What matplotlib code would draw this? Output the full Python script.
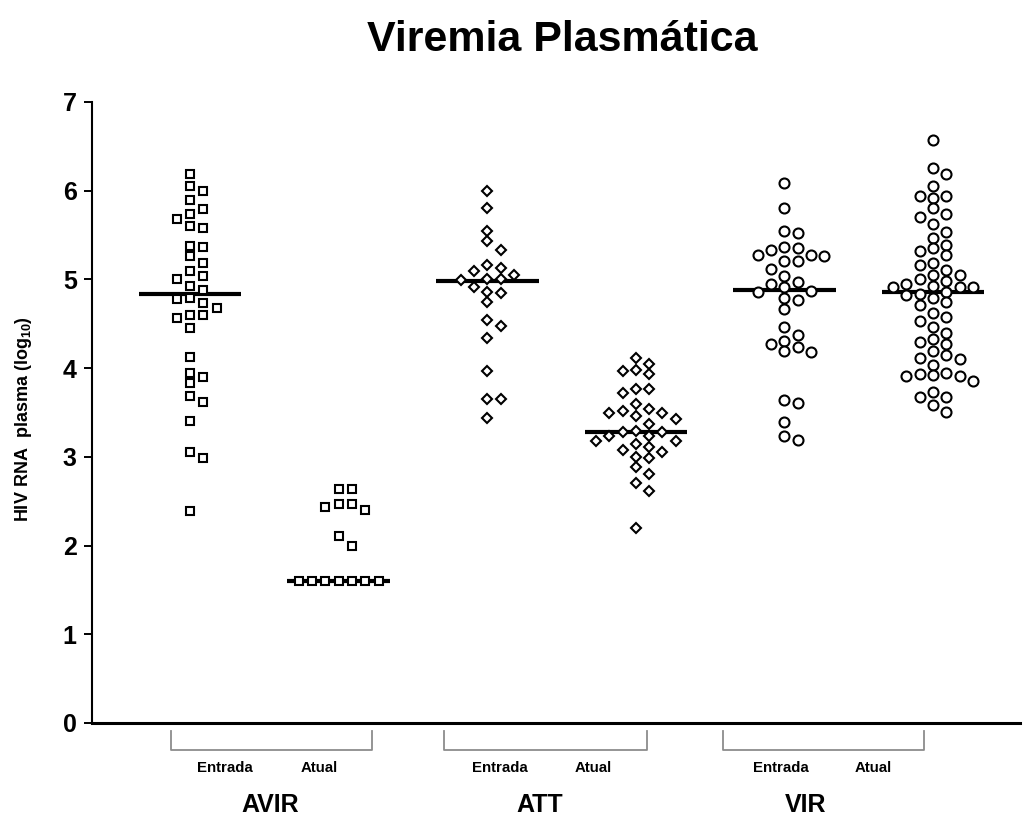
import numpy as np
import matplotlib
matplotlib.use("Agg")
import matplotlib.pyplot as plt
import matplotlib.transforms as mtransforms

plt.rcParams['font.family'] = ['Liberation Sans', 'DejaVu Sans']
plt.rcParams['mathtext.fontset'] = 'custom'
plt.rcParams['mathtext.bf'] = 'Liberation Sans:bold'
plt.rcParams['mathtext.rm'] = 'Liberation Sans:bold'

# HIV RNA (log10) per patient, at entry ("Entrada") and current ("Atual")
avir_entrada = [6.19, 6.05, 6.00, 5.89, 5.79, 5.74, 5.68, 5.60, 5.58, 5.38, 5.37, 5.26,
                5.18, 5.10, 5.04, 5.01, 4.92, 4.88, 4.79, 4.78, 4.73, 4.68, 4.60, 4.60,
                4.57, 4.45, 4.12, 3.95, 3.90, 3.83, 3.69, 3.62, 3.40, 3.05, 2.99, 2.39]
avir_atual = [2.64, 2.64, 2.47, 2.47, 2.43, 2.40, 2.11, 2.00,
              1.60, 1.60, 1.60, 1.60, 1.60, 1.60, 1.60]
att_entrada = [6.00, 5.80, 5.55, 5.43, 5.33, 5.16, 5.13, 5.09, 5.05, 5.01, 5.01, 4.99,
               4.91, 4.86, 4.85, 4.74, 4.54, 4.47, 4.34, 3.97, 3.65, 3.65, 3.44]
att_atual = [4.11, 4.05, 3.98, 3.97, 3.93, 3.77, 3.76, 3.72, 3.60, 3.54, 3.52, 3.49,
             3.49, 3.46, 3.43, 3.37, 3.29, 3.28, 3.28, 3.23, 3.23, 3.18, 3.18, 3.15,
             3.11, 3.08, 3.05, 3.00, 2.99, 2.88, 2.81, 2.71, 2.61, 2.20]
vir_entrada = [6.09, 5.80, 5.55, 5.52, 5.37, 5.35, 5.33, 5.28, 5.27, 5.26, 5.21, 5.21,
               5.12, 5.04, 4.97, 4.95, 4.91, 4.87, 4.86, 4.79, 4.77, 4.67, 4.46, 4.37,
               4.31, 4.27, 4.24, 4.19, 4.18, 3.64, 3.61, 3.39, 3.24, 3.19]
vir_atual = [6.57, 6.26, 6.19, 6.05, 5.94, 5.94, 5.92, 5.80, 5.74, 5.70, 5.63, 5.53,
             5.47, 5.39, 5.35, 5.32, 5.27, 5.19, 5.16, 5.11, 5.05, 5.05, 5.00, 4.98,
             4.95, 4.92, 4.91, 4.91, 4.91, 4.86, 4.84, 4.82, 4.79, 4.74, 4.71, 4.62,
             4.58, 4.53, 4.46, 4.40, 4.33, 4.29, 4.27, 4.19, 4.15, 4.11, 4.10, 4.04,
             3.94, 3.93, 3.92, 3.91, 3.91, 3.85, 3.73, 3.67, 3.67, 3.58, 3.51]

series = [avir_entrada, avir_atual, att_entrada, att_atual, vir_entrada, vir_atual]
center_lines = [4.83, 1.60, 4.98, 3.28, 4.88, 4.86]
groups = ['AVIR', 'ATT', 'VIR']
sub_labels = ['Entrada', 'Atual']
markers = ['s', 's', 'D', 'D', 'o', 'o']
marker_sizes = [6.3, 6.3, 5.0, 5.0, 7.2, 7.2]


def swarm_offsets(values, step=0.0895, min_gap=0.118):
    # greedy column placement: centre first, then alternate outwards
    order = [0]
    for i in range(1, 20):
        order += [i, -i]
    placed = []
    offs = []
    for v in values:
        for k in order:
            if all(not (pk == k and abs(pv - v) < min_gap) for pk, pv in placed):
                break
        placed.append((k, v))
        offs.append(k * step)
    return np.array(offs)


fig = plt.figure(figsize=(10.25, 8.27), dpi=100)
ax = fig.add_axes([0.0898, 0.1258, 0.9053, 0.7509])

for i, vals in enumerate(series):
    x = i + 1 + swarm_offsets(vals)
    ax.plot(x, vals, linestyle='none', marker=markers[i], ms=marker_sizes[i],
            mfc='white', mec='black', mew=1.5, zorder=3)
    ax.plot([i + 1 - 0.345, i + 1 + 0.345], [center_lines[i]] * 2, color='black',
            lw=3.0, solid_capstyle='butt', zorder=2)

ax.set_xlim(0.3405, 6.585)
ax.set_ylim(0, 7)
ax.set_yticks(range(0, 8))
ax.set_xticks([])
for side in ['top', 'right']:
    ax.spines[side].set_visible(False)
ax.spines['left'].set_linewidth(1.5)
ax.spines['bottom'].set_linewidth(2.2)
ax.tick_params(axis='y', direction='out', length=6, width=1.4, pad=5)
for lbl in ax.get_yticklabels():
    lbl.set_fontsize(18)
    lbl.set_fontweight('bold')

ax.set_ylabel(r'HIV RNA  plasma (log$_{\mathbf{10}}$)', fontsize=13, fontweight='bold')
ax.yaxis.set_label_coords(-0.063, 0.49)

fig.text(562 / 1025, 1 - 40 / 827, 'Viremia Plasmática', fontsize=31,
         fontweight='bold', ha='center', va='center')

# group brackets and labels under the axis
trans = mtransforms.blended_transform_factory(ax.transData, ax.transAxes)
brackets = [(0.872, 2.225), (2.709, 4.072), (4.587, 5.939)]
sub_pos = [(1.236, 1.868), (3.086, 3.712), (4.977, 5.596)]
group_pos = [1.538, 3.355, 5.145]
for g, (x0, x1), (xs0, xs1), xg in zip(groups, brackets, sub_pos, group_pos):
    ax.plot([x0, x0, x1, x1], [-0.0129, -0.0435, -0.0435, -0.0129], transform=trans,
            clip_on=False, color='#8c8c8c', lw=1.3)
    ax.text(xs0, -0.0725, sub_labels[0], transform=trans, ha='center', va='center',
            fontsize=10.8, fontweight='bold')
    ax.text(xs1, -0.0725, sub_labels[1], transform=trans, ha='center', va='center',
            fontsize=10.8, fontweight='bold')
    ax.text(xg, -0.132, g, transform=trans, ha='center', va='center',
            fontsize=18, fontweight='bold')

fig.savefig('out.png', dpi=100)
